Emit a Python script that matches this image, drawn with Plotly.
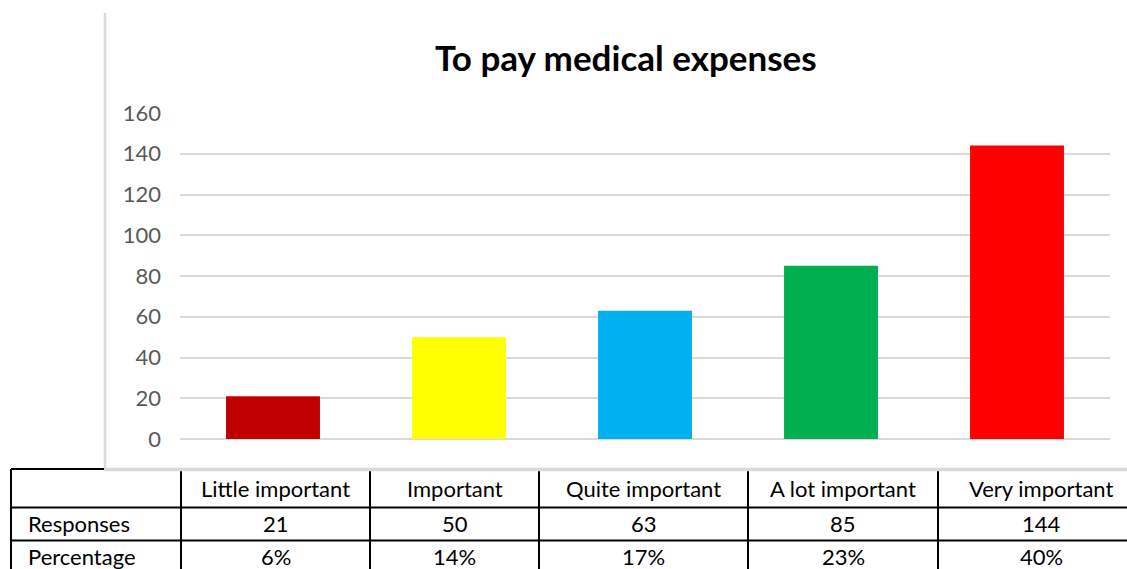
import plotly.graph_objects as go

# Survey results: importance of saving "to pay medical expenses"
categories = ["Little important", "Important", "Quite important", "A lot important", "Very important"]
responses = [21, 50, 63, 85, 144]
percentages = ["6%", "14%", "17%", "23%", "40%"]
bar_colors = ["#C00000", "#FFFF00", "#00B0F0", "#00B050", "#FF0000"]
y_ticks = [0, 20, 40, 60, 80, 100, 120, 140, 160]
row_labels = ["Responses", "Percentage"]

W, H = 1127, 569
PL, PR, PT, PB = 180, 1110, 113, 439  # plot area in pixels

FONT = "Lato, 'Open Sans', sans-serif"


def fx(px):
    return (px - PL) / (PR - PL)


def fy(py):
    return (PB - py) / (PB - PT)


fig = go.Figure(
    go.Bar(
        x=categories,
        y=responses,
        marker=dict(color=bar_colors, line=dict(width=0)),
        width=0.505,
        hoverinfo="x+y",
    )
)

shapes = []
annotations = []

# chart frame (left edge and bottom edge)
shapes.append(dict(type="line", xref="paper", yref="paper",
                   x0=fx(105), x1=fx(105), y0=fy(13), y1=fy(471),
                   line=dict(color="#d9d9d9", width=2.5), layer="above"))

# data table grid
black = dict(color="black", width=2)
col_edges = [11, 181, 370, 539, 748, 938, 1144]
row_edges = [469, 507.5, 540.5, 580]
for yy in row_edges[:-1]:
    shapes.append(dict(type="line", xref="paper", yref="paper",
                       x0=fx(col_edges[0]), x1=fx(W + 10), y0=fy(yy), y1=fy(yy),
                       line=black, layer="above"))
for xx in col_edges:
    shapes.append(dict(type="line", xref="paper", yref="paper",
                       x0=fx(xx), x1=fx(xx), y0=fy(row_edges[0]), y1=fy(row_edges[-1]),
                       line=black, layer="above"))

shapes.append(dict(type="line", xref="paper", yref="paper",
                   x0=fx(104), x1=fx(W + 10), y0=fy(469.5), y1=fy(469.5),
                   line=dict(color="#d9d9d9", width=3.5), layer="above"))

row_centers = [488, 523, 556]
tfont = dict(family=FONT, size=22, color="black")

for i, cat in enumerate(categories):
    cx = (col_edges[i + 1] + col_edges[i + 2]) / 2
    annotations.append(dict(x=fx(cx), y=fy(row_centers[0]), xref="paper", yref="paper",
                            text=cat, showarrow=False, xanchor="center", yanchor="middle",
                            font=tfont))
    annotations.append(dict(x=fx(cx), y=fy(row_centers[1]), xref="paper", yref="paper",
                            text=str(responses[i]), showarrow=False, xanchor="center",
                            yanchor="middle", font=tfont))
    annotations.append(dict(x=fx(cx), y=fy(row_centers[2]), xref="paper", yref="paper",
                            text=percentages[i], showarrow=False, xanchor="center",
                            yanchor="middle", font=tfont))

for j, lab in enumerate(row_labels):
    annotations.append(dict(x=fx(26), y=fy(row_centers[j + 1]), xref="paper", yref="paper",
                            text=lab, showarrow=False, xanchor="left", yanchor="middle",
                            font=tfont))

# chart title
annotations.append(dict(x=fx(626), y=fy(57), xref="paper", yref="paper",
                        text="<b>To pay medical expenses</b>", showarrow=False,
                        xanchor="center", yanchor="middle",
                        font=dict(family=FONT, size=35, color="black")))

fig.update_layout(
    width=W,
    height=H,
    margin=dict(l=PL, r=W - PR, t=PT, b=H - PB, autoexpand=False),
    paper_bgcolor="white",
    plot_bgcolor="white",
    showlegend=False,
    shapes=shapes,
    annotations=annotations,
    xaxis=dict(showticklabels=False, showgrid=False, zeroline=False, showline=False,
               ticks="", fixedrange=True),
    yaxis=dict(range=[0, 160], tickvals=y_ticks, showgrid=True, gridcolor="#d9d9d9",
               gridwidth=1.5, zeroline=True, zerolinecolor="#d9d9d9", zerolinewidth=1.5,
               showline=False, ticks="", ticklabelstandoff=18,
               tickfont=dict(family=FONT, size=22, color="#595959"), fixedrange=True),
)

fig.write_html("out.html", config={"displayModeBar": False})
